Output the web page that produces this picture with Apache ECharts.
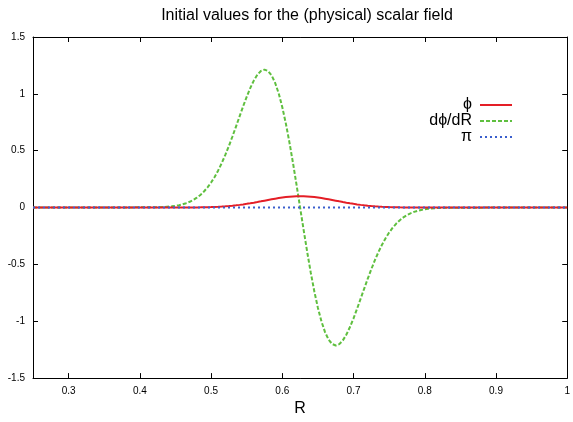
<!DOCTYPE html>
<html>
<head>
<meta charset="utf-8">
<script src="https://cdn.jsdelivr.net/npm/echarts@6/dist/echarts.min.js"></script>
<style>
html,body{margin:0;padding:0;background:#fff;}
#c{width:573px;height:422px;}
</style>
</head>
<body>
<div id="c"></div>
<script>
// Sample positions R
const R = [0.25, 0.35, 0.425, 0.435,
  0.445, 0.45, 0.455, 0.46, 0.465, 0.47, 0.475, 0.48, 0.485, 0.49, 0.495,
  0.5, 0.505, 0.51, 0.515, 0.52, 0.525, 0.53, 0.535, 0.54, 0.545,
  0.55, 0.555, 0.56, 0.565, 0.57, 0.575, 0.58, 0.585, 0.59, 0.595,
  0.6, 0.605, 0.61, 0.615, 0.62, 0.625, 0.63, 0.635, 0.64, 0.645,
  0.65, 0.655, 0.66, 0.665, 0.67, 0.675, 0.68, 0.685, 0.69, 0.695,
  0.7, 0.705, 0.71, 0.715, 0.72, 0.725, 0.73, 0.735, 0.74, 0.745,
  0.75, 0.755, 0.76, 0.765, 0.77, 0.775, 0.78, 0.785, 0.79, 0.795,
  0.8, 0.805, 0.815, 0.825, 0.9, 1.0];

// phi values
const phi = [0, 0, 0.00003, 0.00007,
  0.00015, 0.00022, 0.00031, 0.00043, 0.0006, 0.00082, 0.00111, 0.00149, 0.00198, 0.00261, 0.00341,
  0.00439, 0.00561, 0.0071, 0.00889, 0.01103, 0.01353, 0.01645, 0.01979, 0.02357, 0.0278,
  0.03247, 0.03753, 0.04296, 0.04868, 0.05461, 0.06065, 0.0667, 0.07262, 0.07827, 0.08353,
  0.08825, 0.09231, 0.0956, 0.09802, 0.0995, 0.1, 0.0995, 0.09802, 0.0956, 0.09231,
  0.08825, 0.08353, 0.07827, 0.07262, 0.0667, 0.06065, 0.05461, 0.04868, 0.04296, 0.03753,
  0.03247, 0.0278, 0.02357, 0.01979, 0.01645, 0.01353, 0.01103, 0.00889, 0.0071, 0.00561,
  0.00439, 0.00341, 0.00261, 0.00198, 0.00149, 0.00111, 0.00082, 0.0006, 0.00043, 0.00031,
  0.00022, 0.00015, 0.00007, 0.00003, 0, 0];

// d phi / dR values
const dphi = [0, 0, 0.0027, 0.0055,
  0.0110, 0.0153, 0.0210, 0.0285, 0.0383, 0.0508, 0.0667, 0.0865, 0.1111, 0.1410, 0.1771,
  0.2197, 0.2694, 0.3266, 0.3912, 0.4631, 0.5414, 0.6250, 0.7124, 0.8015, 0.8897,
  0.9740, 1.0509, 1.1169, 1.1682, 1.2014, 1.2131, 1.2006, 1.1618, 1.0958, 1.0023,
  0.8825, 0.7385, 0.5736, 0.3921, 0.1990, 0, -0.1990, -0.3921, -0.5736, -0.7385,
  -0.8825, -1.0023, -1.0958, -1.1618, -1.2006, -1.2131, -1.2014, -1.1682, -1.1169, -1.0509,
  -0.9740, -0.8897, -0.8015, -0.7124, -0.6250, -0.5414, -0.4631, -0.3912, -0.3266, -0.2694,
  -0.2197, -0.1771, -0.1410, -0.1111, -0.0865, -0.0667, -0.0508, -0.0383, -0.0285, -0.0210,
  -0.0153, -0.0110, -0.0055, -0.0027, 0, 0];

// pi values
const piR = [0.25, 1.0];
const piVals = [0, 0];

const xTicks = [0.3, 0.4, 0.5, 0.6, 0.7, 0.8, 0.9, 1.0];
const yTicks = [-1.5, -1, -0.5, 0, 0.5, 1, 1.5];
const seriesNames = ['\u03d5', 'd\u03d5/dR', '\u03c0'];
const titleText = 'Initial values for the (physical) scalar field';
const xName = 'R';

function pairs(xs, ys) { return xs.map((x, i) => [x, ys[i]]); }

const FONT = 'Liberation Sans, Arial, sans-serif';
const chart = echarts.init(document.getElementById('c'), null, {renderer: 'canvas'});

const baseX = {
  type: 'value', min: 0.25, max: 1.0,
  axisLine: {show: true, onZero: false, lineStyle: {color: '#000', width: 1}},
  axisTick: {show: true, inside: true, length: 5, customValues: xTicks, lineStyle: {color: '#000'}},
  splitLine: {show: false}
};
const baseY = {
  type: 'value', min: -1.5, max: 1.5, interval: 0.5,
  axisLine: {show: true, onZero: false, lineStyle: {color: '#000', width: 1}},
  axisTick: {show: true, inside: true, length: 5, lineStyle: {color: '#000'}},
  splitLine: {show: false}
};

chart.setOption({
  animation: false,
  backgroundColor: '#fff',
  title: {
    text: titleText, left: 302, top: 3, textAlign: 'center',
    textStyle: {fontFamily: FONT, fontSize: 16, fontWeight: 'normal', color: '#000'}
  },
  grid: {left: 33, right: 2, top: 37, bottom: 38, containLabel: false},
  legend: {
    orient: 'vertical', right: 55, top: 92, align: 'right',
    itemWidth: 32, itemHeight: 12, itemGap: 0,
    itemStyle: {opacity: 0},
    textStyle: {fontFamily: FONT, fontSize: 16, lineHeight: 16, color: '#000', padding: [0, 3, 0, 0]},
    data: seriesNames
  },
  xAxis: [
    Object.assign({}, baseX, {
      position: 'bottom',
      name: xName, nameLocation: 'middle', nameGap: 21,
      nameTextStyle: {fontFamily: FONT, fontSize: 16, color: '#000'},
      axisLabel: {show: true, customValues: xTicks, margin: 8, fontFamily: FONT, fontSize: 10, color: '#000',
        formatter: v => String(Math.round(v * 10) / 10)}
    }),
    Object.assign({}, baseX, {position: 'top', axisLabel: {show: false}})
  ],
  yAxis: [
    Object.assign({}, baseY, {
      position: 'left',
      axisLabel: {show: true, margin: 8, fontFamily: FONT, fontSize: 10, color: '#000',
        formatter: v => String(v)}
    }),
    Object.assign({}, baseY, {position: 'right', axisLabel: {show: false}})
  ],
  series: [
    {
      name: seriesNames[0], type: 'line', xAxisIndex: 0, yAxisIndex: 0,
      data: pairs(R, phi), symbol: 'none', showSymbol: false,
      lineStyle: {color: '#e41e26', width: 2, type: 'solid'}, itemStyle: {color: '#e41e26'}, z: 3
    },
    {
      name: seriesNames[1], type: 'line', xAxisIndex: 0, yAxisIndex: 0,
      data: pairs(R, dphi), symbol: 'none', showSymbol: false,
      lineStyle: {color: '#5fbf3f', width: 2, type: [4, 2]}, itemStyle: {color: '#5fbf3f'}, z: 2
    },
    {
      name: seriesNames[2], type: 'line', xAxisIndex: 0, yAxisIndex: 0,
      data: pairs(piR, piVals), symbol: 'none', showSymbol: false,
      lineStyle: {color: '#3a5fcd', width: 2, type: [2, 3]}, itemStyle: {color: '#3a5fcd'}, z: 4
    }
  ]
});
</script>
</body>
</html>
